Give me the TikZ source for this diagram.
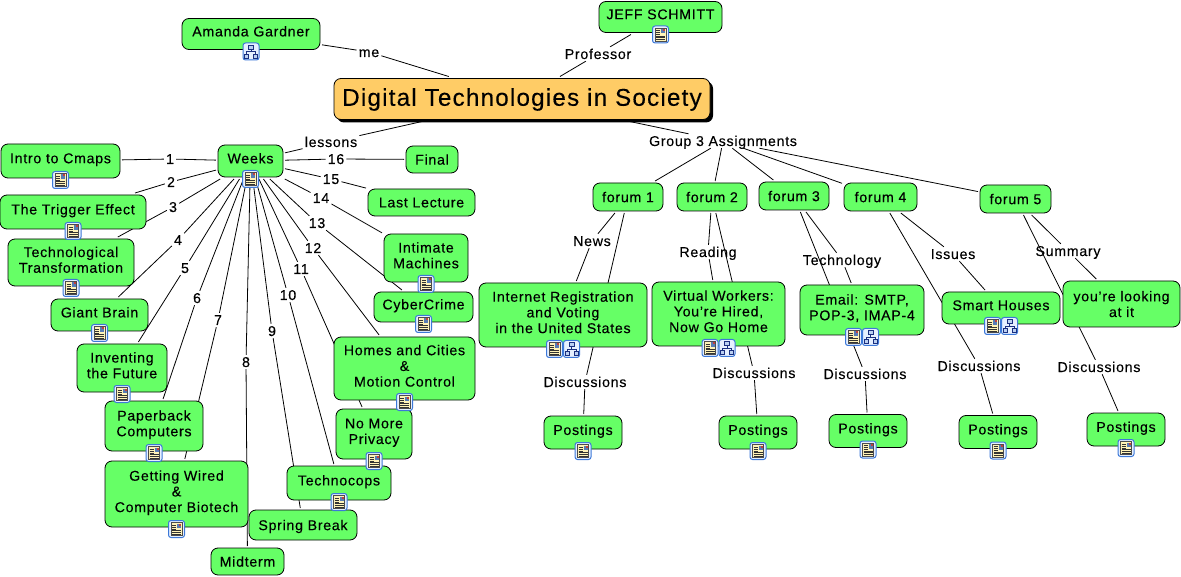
\documentclass[tikz,border=0pt]{standalone}
\usepackage{fontspec}
\setmainfont[LetterSpace=5, FakeBold=0.2]{Liberation Sans}
\usepackage{tikz}
\usetikzlibrary{shadows}
\pgfdeclarelayer{background}
\pgfsetlayers{background,main}
\definecolor{conceptgreen}{HTML}{66FF66}
\definecolor{rootorange}{HTML}{FFCC66}
\definecolor{iconblue}{HTML}{3C78D8}
\definecolor{iconpale}{HTML}{E6F0FF}
\definecolor{iconpaper}{HTML}{FFF3B8}
\definecolor{icontree}{HTML}{1A2F80}
\tikzset{
    concept/.style={draw=black, fill=conceptgreen, rounded corners=7pt, align=center, inner sep=0pt, outer sep=2pt, line width=0.8pt, font=\fontsize{14.2}{15.7}\selectfont, text depth=0pt},
    withicon/.style={text depth=5.5pt},
    rootconcept/.style={concept, fill=rootorange, font=\fontsize{24.2}{28}\selectfont, text depth=4pt, drop shadow={shadow xshift=3pt, shadow yshift=-3pt, opacity=1, fill=black}},
    linklabel/.style={inner sep=2pt, font=\fontsize{14.2}{16}\selectfont, text height=10pt, text depth=0pt},
    link/.style={line width=0.8pt},
    docicon/.pic={
        \draw[iconblue, fill=iconpale, rounded corners=2.5pt, line width=1pt] (-8,-8.5) rectangle (8,8.5);
        \draw[black!70, fill=iconpaper, line width=0.5pt] (-5.5,-6.5) rectangle (5.5,6.5);
        \fill[iconblue!60!gray] (0.5,-5.5) rectangle (4.8,-1);
        \fill[red!50!gray] (2.8,-5.5) rectangle (4.8,-3.5);
        \foreach \ya in {-4,-2,0} \draw[black!80, line width=0.5pt] (-4.5,\ya) -- (-0.5,\ya);
        \foreach \ya in {1.5,3.2,5} \draw[black!80, line width=0.5pt] (-4.5,\ya) -- (4.5,\ya);
    },
    mapicon/.pic={
        \draw[iconblue, fill=iconpale, rounded corners=2.5pt, line width=1pt] (-8,-8.5) rectangle (8,8.5);
        \draw[icontree, fill=iconblue!35, line width=0.8pt] (-2.5,-6.5) rectangle (2.5,-2.5);
        \draw[icontree, fill=iconblue!35, line width=0.8pt] (-6.5,2.5) rectangle (-2.5,6.5);
        \draw[icontree, fill=iconblue!35, line width=0.8pt] (2.5,2.5) rectangle (6.5,6.5);
        \draw[icontree, line width=0.8pt] (0,-2.5) -- (0,0) (-4.5,2.5) -- (-4.5,0) -- (4.5,0) -- (4.5,2.5);
    },
}
\begin{document}
\begin{tikzpicture}[x=1pt, y=-1pt]
    \useasboundingbox (0,0) rectangle (1181,577);

    % concepts
    \node[rootconcept, minimum width=376, minimum height=41] (root) at (522,99) {Digital Technologies in Society};
    \node[concept, withicon, minimum width=138, minimum height=31] (amanda) at (251,34) {Amanda Gardner};
    \node[concept, withicon, minimum width=123, minimum height=31] (jeff) at (660.5,17) {JEFF SCHMITT};
    \node[concept, withicon, minimum width=119, minimum height=34] (intro) at (60.5,161) {Intro to Cmaps};
    \node[concept, withicon, minimum width=65, minimum height=32] (weeks) at (250.5,161) {Weeks};
    \node[concept, withicon, minimum width=146, minimum height=34] (trigger) at (73,212) {The Trigger Effect};
    \node[concept, withicon, minimum width=126, minimum height=47] (transform) at (71,262.5) {Technological\\Transformation};
    \node[concept, withicon, minimum width=97, minimum height=32] (brain) at (99.5,315) {Giant Brain};
    \node[concept, withicon, minimum width=90, minimum height=48] (inventing) at (122,368) {Inventing\\the Future};
    \node[concept, withicon, minimum width=98, minimum height=50] (paperback) at (154,426) {Paperback\\Computers};
    \node[concept, withicon, minimum width=143, minimum height=66] (wired) at (176.5,494) {Getting Wired\\\&\\Computer Biotech};
    \node[concept, withicon, minimum width=104, minimum height=34] (technocops) at (339,483) {Technocops};
    \node[concept, minimum width=108, minimum height=30] (spring) at (303,525) {Spring Break};
    \node[concept, minimum width=73, minimum height=27] (midterm) at (247.5,561.5) {Midterm};
    \node[concept, minimum width=52, minimum height=27] (final) at (432,159.5) {Final};
    \node[concept, minimum width=107, minimum height=27] (lecture) at (421.5,202.5) {Last Lecture};
    \node[concept, withicon, minimum width=84, minimum height=48] (intimate) at (426,258) {Intimate\\Machines};
    \node[concept, withicon, minimum width=99, minimum height=30] (cyber) at (423.5,307) {CyberCrime};
    \node[concept, withicon, minimum width=141, minimum height=63] (homes) at (404.5,368.5) {Homes and Cities\\\&\\Motion Control};
    \node[concept, withicon, minimum width=76, minimum height=50] (privacy) at (374,434) {No More\\Privacy};
    \node[concept, minimum width=70, minimum height=28] (forumone) at (628,197) {forum 1};
    \node[concept, minimum width=70, minimum height=28] (forumtwo) at (712,197) {forum 2};
    \node[concept, minimum width=70, minimum height=28] (forumthree) at (794,196) {forum 3};
    \node[concept, minimum width=73, minimum height=28] (forumfour) at (880.5,197) {forum 4};
    \node[concept, minimum width=71, minimum height=28] (forumfive) at (1015.5,199) {forum 5};
    \node[concept, withicon, minimum width=168, minimum height=64] (internet) at (563,315) {Internet Registration\\and Voting\\in the United States};
    \node[concept, withicon, minimum width=133, minimum height=64] (virtual) at (718.5,314) {Virtual Workers:\\You're Hired,\\Now Go Home};
    \node[concept, withicon, minimum width=124, minimum height=50] (email) at (862,310) {Email: SMTP,\\POP-3, IMAP-4};
    \node[concept, withicon, minimum width=118, minimum height=32] (smart) at (1001,308) {Smart Houses};
    \node[concept, minimum width=117, minimum height=46] (looking) at (1121.5,304) {you're looking\\at it};
    \foreach \n/\x/\y in {postone/583/432.5, posttwo/758/432.5, postthree/868/431, postfour/998/432, postfive/1126/429.5}
        \node[concept, withicon, minimum width=78, minimum height=33] (\n) at (\x,\y) {Postings};

    % icons
    \foreach \n in {jeff,intro,weeks,trigger,transform,brain,inventing,paperback,wired,technocops,intimate,cyber,homes,privacy,postone,posttwo,postthree,postfour,postfive}
        \pic at (\n.south) {docicon};
    \pic at (amanda.south) {mapicon};
    \foreach \n in {internet,virtual,email,smart} {
        \pic at ([xshift=-8.5pt]\n.south) {docicon};
        \pic at ([xshift=8.5pt]\n.south) {mapicon};
    }

    % linking phrases
    \node[linklabel] (me) at (369,52) {me};
    \node[linklabel] (professor) at (598,54) {Professor};
    \node[linklabel] (lessons) at (331,142) {lessons};
    \node[linklabel] (group) at (723,141) {Group 3 Assignments};
    \foreach \n/\x/\y in {1/170/159, 2/171/182, 3/173/207, 4/178/240, 5/185/268, 6/197/298, 7/218/320, 8/246/362, 9/272/331, 10/288/295, 11/301/269, 12/313/248, 13/317/223, 14/321/198, 15/331/179, 16/336/159}
        \node[linklabel] (week\n) at (\x,\y) {\n};
    \node[linklabel] (news) at (592,241) {News};
    \node[linklabel] (reading) at (708,252) {Reading};
    \node[linklabel] (technology) at (842,260) {Technology};
    \node[linklabel] (issues) at (953,254) {Issues};
    \node[linklabel] (summary) at (1068,251) {Summary};
    \node[linklabel] (discone) at (585,382) {Discussions};
    \node[linklabel] (disctwo) at (754,373) {Discussions};
    \node[linklabel] (discthree) at (865,374) {Discussions};
    \node[linklabel] (discfour) at (979,366) {Discussions};
    \node[linklabel] (discfive) at (1099,367) {Discussions};

    % connectors, under the concepts
    \begin{pgfonlayer}{background}
        \foreach \a/\b/\c in {root/me/amanda, root/professor/jeff, root/lessons/weeks,
            weeks/week1/intro, weeks/week2/trigger, weeks/week3/transform, weeks/week4/brain,
            weeks/week5/inventing, weeks/week6/paperback, weeks/week7/wired, weeks/week8/midterm,
            weeks/week9/spring, weeks/week10/technocops, weeks/week11/privacy, weeks/week12/homes,
            weeks/week13/cyber, weeks/week14/intimate, weeks/week15/lecture, weeks/week16/final,
            forumone/news/internet, forumtwo/reading/virtual, forumthree/technology/email,
            forumfour/issues/smart, forumfive/summary/looking,
            forumone/discone/postone, forumtwo/disctwo/posttwo, forumthree/discthree/postthree,
            forumfour/discfour/postfour, forumfive/discfive/postfive}
            \draw[link] (\a) -- (\b) -- (\c);
        \draw[link] (root) -- (group);
        \foreach \f in {forumone,forumtwo,forumthree,forumfour,forumfive}
            \draw[link] (group) -- (\f);
    \end{pgfonlayer}
\end{tikzpicture}
\end{document}
